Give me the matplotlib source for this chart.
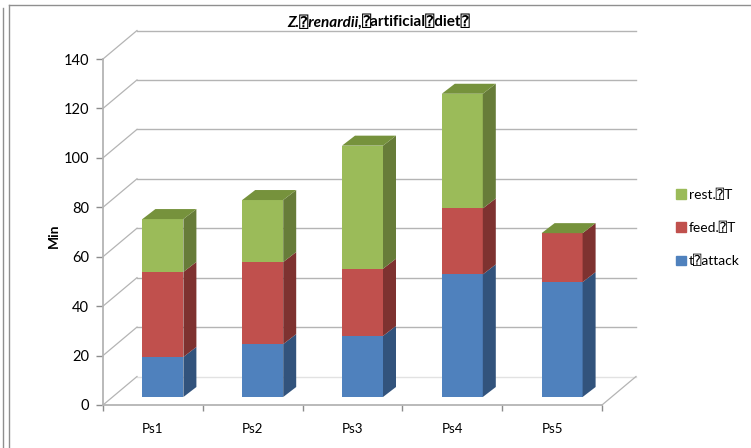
# -*- coding: utf-8 -*-
#%% Packages
import numpy as np
import matplotlib
matplotlib.use('Agg')
import matplotlib.pyplot as plt
#%% Data
categories = ['Ps1', 'Ps2', 'Ps3', 'Ps4', 'Ps5']
t_attack = [16.2, 21.4, 24.7, 49.6, 46.5]
feed = [34.4, 33.2, 27.2, 26.7, 19.8]
rest = [21.4, 25.1, 49.8, 46.4, 0]
y_ticks = [0, 20, 40, 60, 80, 100, 120, 140]
series_names = ['t\u2370attack', 'feed.\u2370T', 'rest.\u2370T']
#%% Figure set up, the axes is the front plane of the 3D box
fonts = ['Lato', 'DejaVu Sans Mono', 'DejaVu Sans']
plt.rcParams['font.family'] = fonts
W, H = 751, 448
fig = plt.figure(figsize=(W / 100, H / 100), dpi=100)
ax = fig.add_axes([103 / W, 1 - 405 / H, 499 / W, 346 / H])
ax.set_xlim(0, 5)
ax.set_ylim(0, 140)
px_x = 5 / 499
px_y = 140 / 346

# depth of the box and of a bar, in pixels
box_dx, box_dy = 34 * px_x, 28.5 * px_y
shift_x, shift_y = 10 * px_x, 8 * px_y
bar_dx, bar_dy = 13 * px_x, 10 * px_y
bar_w = 41 * px_x
grid_col = '#b4b4b4'
#%% Walls
for v in y_ticks:
    ax.plot([box_dx, 5 + box_dx], [v + box_dy, v + box_dy], color='#e2e2e2' if v == 0 else grid_col,
            lw=1.0, zorder=1, clip_on=False)
    ax.plot([0, box_dx], [v, v + box_dy], color=grid_col, lw=0.9, zorder=1, clip_on=False)
ax.plot([5, 5 + box_dx], [0, box_dy], color=grid_col, lw=0.9, zorder=1, clip_on=False)
#%% Bars
x = np.arange(len(categories)) + 0.5
layers = [(t_attack, '#4f81bd', '#32537c'), (feed, '#c0504d', '#7e3230'), (rest, '#9bbb59', '#677c39')]
bottom = np.zeros(len(categories))
for vals, col, side in layers:
    vals = np.array(vals, dtype=float)
    ax.bar(x + shift_x, vals, bar_w, bottom=bottom + shift_y, color=col, zorder=3, clip_on=False)
    for xi, b, v in zip(x + shift_x + bar_w / 2, bottom + shift_y, vals):
        ax.fill([xi, xi + bar_dx, xi + bar_dx, xi], [b, b + bar_dy, b + v + bar_dy, b + v],
                color=side, lw=0, zorder=3, clip_on=False)
    bottom = bottom + vals
for xi, t in zip(x + shift_x - bar_w / 2, bottom + shift_y):
    ax.fill([xi, xi + bar_w, xi + bar_w + bar_dx, xi + bar_dx], [t, t, t + bar_dy, t + bar_dy],
            color='#76923c', lw=0, zorder=3, clip_on=False)
#%% Axes, ticks and labels
for s in ['top', 'right']:
    ax.spines[s].set_visible(False)
for s in ['left', 'bottom']:
    ax.spines[s].set_color(grid_col)
    ax.spines[s].set_linewidth(1.3)
ax.set_yticks(y_ticks)
ax.set_xticks(np.arange(0, 6))
ax.set_xticklabels([])
ax.set_xticks(x, minor=True)
ax.set_xticklabels(categories, minor=True, fontsize=9.5, color='black')
ax.tick_params(axis='x', which='minor', length=0, pad=13)
ax.tick_params(axis='x', which='major', length=4, color='#8c8c8c', width=1)
ax.tick_params(axis='y', length=5, color='#8c8c8c', width=1, labelsize=10.5, pad=5)
ax.set_ylabel('Min', fontsize=10, fontweight='bold', labelpad=3, y=0.49)
ax.patch.set_alpha(0)
#%% Title in two parts (italic, then plain bold)
fig.text(362 / W, 1 - 22 / H, 'Z.\u2370renardii,', ha='right', va='center', fontsize=11,
         fontweight='bold', fontstyle='italic')
fig.text(362 / W, 1 - 22 / H, '\u2370artificial\u2370diet\u2370', ha='left', va='center', fontsize=11,
         fontweight='bold')
#%% Legend
handles = [plt.Rectangle((0, 0), 1, 1, color=c[1]) for c in layers][::-1]
fig.legend(handles, series_names[::-1], loc='center left', bbox_to_anchor=(676 / W, 1 - 228 / H),
           frameon=False, fontsize=10, handlelength=0.7, handleheight=0.7, handletextpad=0.2,
           labelspacing=1.5, borderpad=0, borderaxespad=0)
#%% Picture frame lines
frame = '#8f8f8f'
fig.add_artist(plt.Line2D([3 / W, 3 / W], [0, 1 - 8 / H], color=frame, lw=1))
fig.add_artist(plt.Line2D([9 / W, 9 / W], [0, 1 - 5 / H], color=frame, lw=1))
fig.add_artist(plt.Line2D([9 / W, 1], [1 - 5 / H, 1 - 5 / H], color=frame, lw=1))
#%% Save
fig.savefig('out.png', dpi=100)
